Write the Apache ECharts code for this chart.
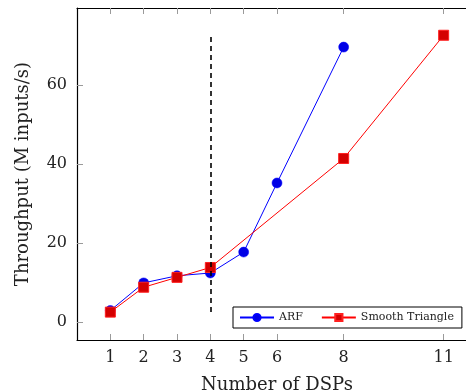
<!DOCTYPE html>
<html>
<head>
<meta charset="utf-8">
<script src="https://cdn.jsdelivr.net/npm/echarts@6/dist/echarts.min.js"></script>
<style>
  html, body { margin: 0; padding: 0; background: #fff; }
  #chart { width: 466px; height: 392px; }
</style>
</head>
<body>
<div id="chart"></div>
<script>
// data
const xTicks = [1, 2, 3, 4, 5, 6, 8, 11];
const yTicks = [0, 20, 40, 60];
const arfX = [1, 2, 3, 4, 5, 6, 8];
const arfY = [2.9, 9.9, 11.7, 12.4, 17.7, 35.2, 69.6];
const smoothX = [1, 2, 3, 4, 8, 11];
const smoothY = [2.5, 8.8, 11.3, 13.8, 41.4, 72.6];
const dividerX = 4;
const dividerY = [2.5, 72.4];

const serif = '"DejaVu Serif", "Liberation Serif", serif';
const tickColor = '#9a9a9a';

const chart = echarts.init(document.getElementById('chart'));

function zip(xs, ys) {
    return xs.map((x, i) => [x, ys[i]]);
}

const xBase = {
    type: 'value',
    min: 0,
    max: 12,
    splitLine: { show: false },
    axisLine: { onZero: false, lineStyle: { color: '#000', width: 1.2 } },
    axisTick: {
        inside: true,
        length: 6,
        customValues: xTicks,
        lineStyle: { color: tickColor, width: 1 }
    }
};

const option = {
    animation: false,
    grid: { left: 77, right: -11, top: 8, bottom: 52, outerBoundsMode: 'none', containLabel: false },
    legend: {
        left: 233,
        top: 307,
        orient: 'horizontal',
        itemWidth: 34,
        itemHeight: 9,
        itemGap: 18,
        padding: [5, 8, 5, 6],
        borderColor: '#000',
        borderWidth: 1,
        borderRadius: 0,
        textStyle: { fontFamily: serif, fontSize: 11, color: '#222' },
        data: ['ARF', 'Smooth Triangle']
    },
    xAxis: [
        Object.assign({}, xBase, {
            position: 'bottom',
            name: 'Number of DSPs',
            nameLocation: 'middle',
            nameGap: 36,
            nameTextStyle: { fontFamily: serif, fontSize: 18, color: '#222' },
            axisLabel: {
                customValues: xTicks,
                fontFamily: serif,
                fontSize: 16,
                color: '#222',
                margin: 10
            }
        }),
        Object.assign({}, xBase, {
            position: 'top',
            axisLabel: { show: false }
        })
    ],
    yAxis: {
        type: 'value',
        min: -4.56,
        max: 79.5,
        name: 'Throughput (M inputs/s)',
        nameLocation: 'middle',
        nameGap: 45,
        nameTextStyle: { fontFamily: serif, fontSize: 18, color: '#222' },
        splitLine: { show: false },
        axisLine: { show: true, lineStyle: { color: '#000', width: 1.2 } },
        axisTick: {
            inside: true,
            length: 6,
            customValues: yTicks,
            lineStyle: { color: tickColor, width: 1 }
        },
        axisLabel: {
            customValues: yTicks,
            fontFamily: serif,
            fontSize: 16,
            color: '#222',
            margin: 10
        }
    },
    series: [
        {
            name: 'ARF',
            type: 'line',
            data: zip(arfX, arfY),
            symbol: 'circle',
            symbolSize: 10,
            lineStyle: { color: '#0000ff', width: 1 },
            itemStyle: { color: '#0000e6', borderColor: '#0000ff', borderWidth: 0.5 },
            markLine: {
                silent: true,
                symbol: 'none',
                label: { show: false },
                lineStyle: { color: '#000', type: [5, 4], width: 1.6 },
                data: [[
                    { coord: [dividerX, dividerY[0]] },
                    { coord: [dividerX, dividerY[1]] }
                ]]
            }
        },
        {
            name: 'Smooth Triangle',
            type: 'line',
            data: zip(smoothX, smoothY),
            symbol: 'rect',
            symbolSize: 10,
            lineStyle: { color: '#ff0000', width: 1 },
            itemStyle: { color: '#d40000', borderColor: '#ff2020', borderWidth: 1 }
        }
    ]
};

chart.setOption(option);
</script>
</body>
</html>
